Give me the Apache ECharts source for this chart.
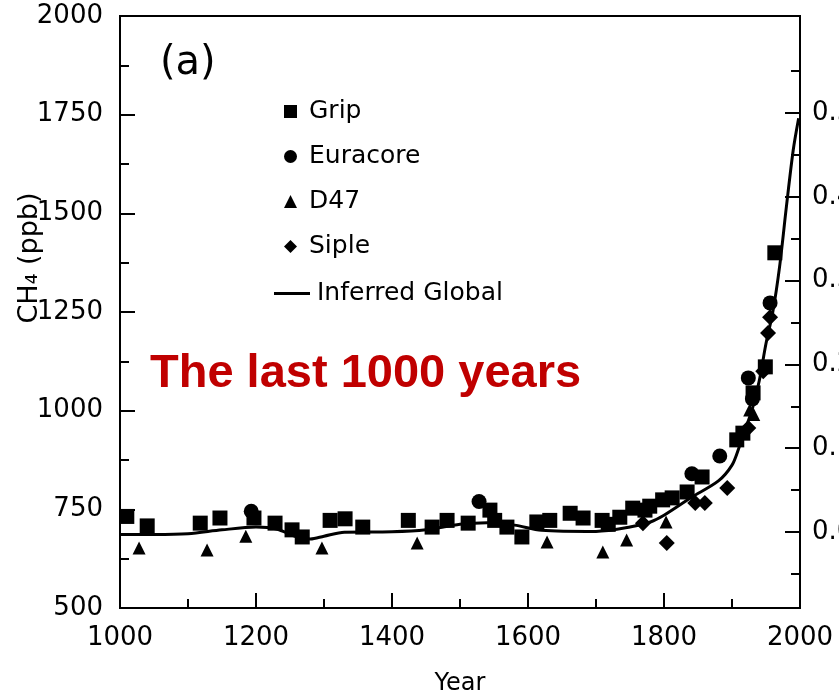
<!DOCTYPE html>
<html>
<head>
<meta charset="utf-8">
<script src="https://cdn.jsdelivr.net/npm/echarts@6/dist/echarts.min.js"></script>
<style>
  html, body { margin: 0; padding: 0; background: #fff; }
  #chart { width: 839px; height: 698px; }
</style>
</head>
<body>
<div id="chart"></div>
<script>
// Ice-core methane record, AD 1000-2000 (ppb)
const gripYears = [1010, 1040, 1118, 1147, 1197, 1228, 1253, 1268, 1309, 1331, 1357, 1424, 1459, 1481, 1512, 1544, 1551, 1569, 1591, 1613, 1632, 1662, 1681, 1709, 1718, 1735, 1754, 1772, 1779, 1798, 1812, 1834, 1856, 1907, 1916, 1931, 1949, 1963];
const gripCH4   = [732, 708, 715, 728, 728, 715, 698, 680, 722, 726, 705, 722, 705, 722, 715, 748, 722, 705, 680, 718, 722, 740, 728, 722, 712, 730, 753, 748, 758, 774, 779, 794, 832, 926, 943, 1045, 1111, 1400];

const euracoreYears = [1193, 1528, 1841, 1882, 1930, 1924, 1956];
const euracoreCH4   = [745, 770, 840, 885, 1030, 1083, 1273];

const d47Years = [1028, 1128, 1185, 1297, 1437, 1628, 1710, 1745, 1803, 1926, 1932];
const d47CH4   = [652, 647, 682, 652, 665, 667, 642, 672, 718, 1002, 990];

const sipleYears = [1769, 1804, 1846, 1860, 1893, 1924, 1946, 1953, 1956];
const sipleCH4   = [715, 665, 766, 766, 804, 956, 1100, 1197, 1237];

const globalYears = [1000, 1050, 1100, 1150, 1200, 1230, 1260, 1280, 1300, 1330, 1400, 1450, 1500, 1540, 1580, 1620, 1700, 1750, 1780, 1800, 1840, 1880, 1900, 1910, 1920, 1930, 1940, 1950, 1960, 1970, 1980, 1990, 1998];
const globalCH4   = [686, 686, 688, 698, 705, 700, 680, 675, 682, 692, 693, 698, 712, 716, 710, 697, 694, 705, 718, 735, 780, 822, 862, 905, 955, 1005, 1075, 1170, 1250, 1365, 1517, 1660, 1741];

// Right-hand scale (forcing, W/m²) tick values
const forcingLabels = [0, 0.1, 0.2, 0.3, 0.4, 0.5];
const forcingMinor  = [-0.05, 0.05, 0.15, 0.25, 0.35, 0.45, 0.55];

const pairs = (xs, ys) => xs.map((x, i) => [x, ys[i]]);

const AXIS_FONT = 'DejaVu Sans';
const BLACK = '#000';
const plain = v => String(v);

const chart = echarts.init(document.getElementById('chart'), null, { renderer: 'canvas' });

const option = {
  backgroundColor: '#fff',
  animation: false,
  grid: {
    left: 120, right: 39, top: 16, bottom: 90,
    outerBoundsMode: 'none', containLabel: false,
    show: true, borderColor: BLACK, borderWidth: 2, backgroundColor: 'transparent'
  },
  xAxis: {
    type: 'value', min: 1000, max: 2000, interval: 200,
    name: 'Year', nameLocation: 'middle', nameGap: 64,
    nameTextStyle: { fontFamily: AXIS_FONT, fontSize: 24, color: BLACK },
    axisLine: { onZero: false, lineStyle: { color: BLACK, width: 2 } },
    axisTick: { inside: true, length: 15, lineStyle: { color: BLACK, width: 2 } },
    minorTick: { show: true, splitNumber: 2, length: 9, lineStyle: { color: BLACK, width: 2 } },
    splitLine: { show: false },
    axisLabel: { fontFamily: AXIS_FONT, fontSize: 26, color: BLACK, margin: 17, formatter: plain }
  },
  yAxis: [
    {
      type: 'value', min: 500, max: 2000, interval: 250, position: 'left',
      axisLine: { show: true, onZero: false, lineStyle: { color: BLACK, width: 2 } },
      axisTick: { show: true, inside: true, length: 15, lineStyle: { color: BLACK, width: 2 } },
      minorTick: { show: true, splitNumber: 2, length: 9, lineStyle: { color: BLACK, width: 2 } },
      splitLine: { show: false },
      axisLabel: { fontFamily: AXIS_FONT, fontSize: 26, color: BLACK, margin: 17, formatter: plain }
    },
    {
      type: 'value', min: -0.0907, max: 0.6158, position: 'right',
      axisLine: { show: true, onZero: false, lineStyle: { color: BLACK, width: 2 } },
      axisTick: { show: true, inside: true, length: 15, customValues: forcingLabels, lineStyle: { color: BLACK, width: 2 } },
      splitLine: { show: false },
      axisLabel: {
        customValues: forcingLabels,
        fontFamily: AXIS_FONT, fontSize: 26, color: BLACK, margin: 12,
        formatter: v => v.toFixed(1)
      }
    },
    {
      type: 'value', min: -0.0907, max: 0.6158, position: 'right',
      axisLine: { show: false, onZero: false },
      axisTick: { show: true, inside: true, length: 9, customValues: forcingMinor, lineStyle: { color: BLACK, width: 2 } },
      splitLine: { show: false },
      axisLabel: { show: false }
    }
  ],
  legend: [
    {
      orient: 'vertical', left: 279, top: 94,
      itemWidth: 13, itemHeight: 13, itemGap: 20,
      data: ['Grip', 'Euracore', 'D47', 'Siple'],
      textStyle: { fontFamily: AXIS_FONT, fontSize: 25, color: BLACK, lineHeight: 24, padding: [0, 0, 0, 7] },
      selectedMode: false
    },
    {
      orient: 'vertical', left: 269, top: 276,
      itemWidth: 36, itemHeight: 3,
      data: [{ name: 'Inferred Global', icon: 'rect' }],
      textStyle: { fontFamily: AXIS_FONT, fontSize: 25, color: BLACK, lineHeight: 24, padding: [0, 0, 0, 2] },
      selectedMode: false
    }
  ],
  graphic: [
    {
      type: 'text', left: 160, top: 44,
      style: { text: '(a)', fontFamily: AXIS_FONT, fontSize: 40, fill: BLACK }
    },
    {
      type: 'text', x: 30, y: 258, rotation: Math.PI / 2,
      style: { text: 'CH₄ (ppb)', fontFamily: AXIS_FONT, fontSize: 27, fill: BLACK, align: 'center', verticalAlign: 'middle' }
    },
    {
      type: 'text', left: 150, top: 351,
      style: { text: 'The last 1000 years', fontFamily: 'Liberation Sans', fontWeight: 'bold', fontSize: 47, fill: '#c00000' }
    }
  ],
  series: [
    {
      name: 'Inferred Global', type: 'line', smooth: 0.3, showSymbol: false, symbol: 'none',
      data: pairs(globalYears, globalCH4),
      lineStyle: { color: BLACK, width: 3 }, itemStyle: { color: BLACK }, z: 2
    },
    {
      name: 'Grip', type: 'scatter', symbol: 'rect', symbolSize: 15,
      data: pairs(gripYears, gripCH4), itemStyle: { color: BLACK, opacity: 1 }, z: 3
    },
    {
      name: 'Euracore', type: 'scatter', symbol: 'circle', symbolSize: 15,
      data: pairs(euracoreYears, euracoreCH4), itemStyle: { color: BLACK, opacity: 1 }, z: 3
    },
    {
      name: 'D47', type: 'scatter', symbol: 'triangle', symbolSize: 13,
      data: pairs(d47Years, d47CH4), itemStyle: { color: BLACK, opacity: 1 }, z: 3
    },
    {
      name: 'Siple', type: 'scatter', symbol: 'diamond', symbolSize: 16,
      data: pairs(sipleYears, sipleCH4), itemStyle: { color: BLACK, opacity: 1 }, z: 3
    }
  ]
};

chart.setOption(option);
</script>
</body>
</html>
